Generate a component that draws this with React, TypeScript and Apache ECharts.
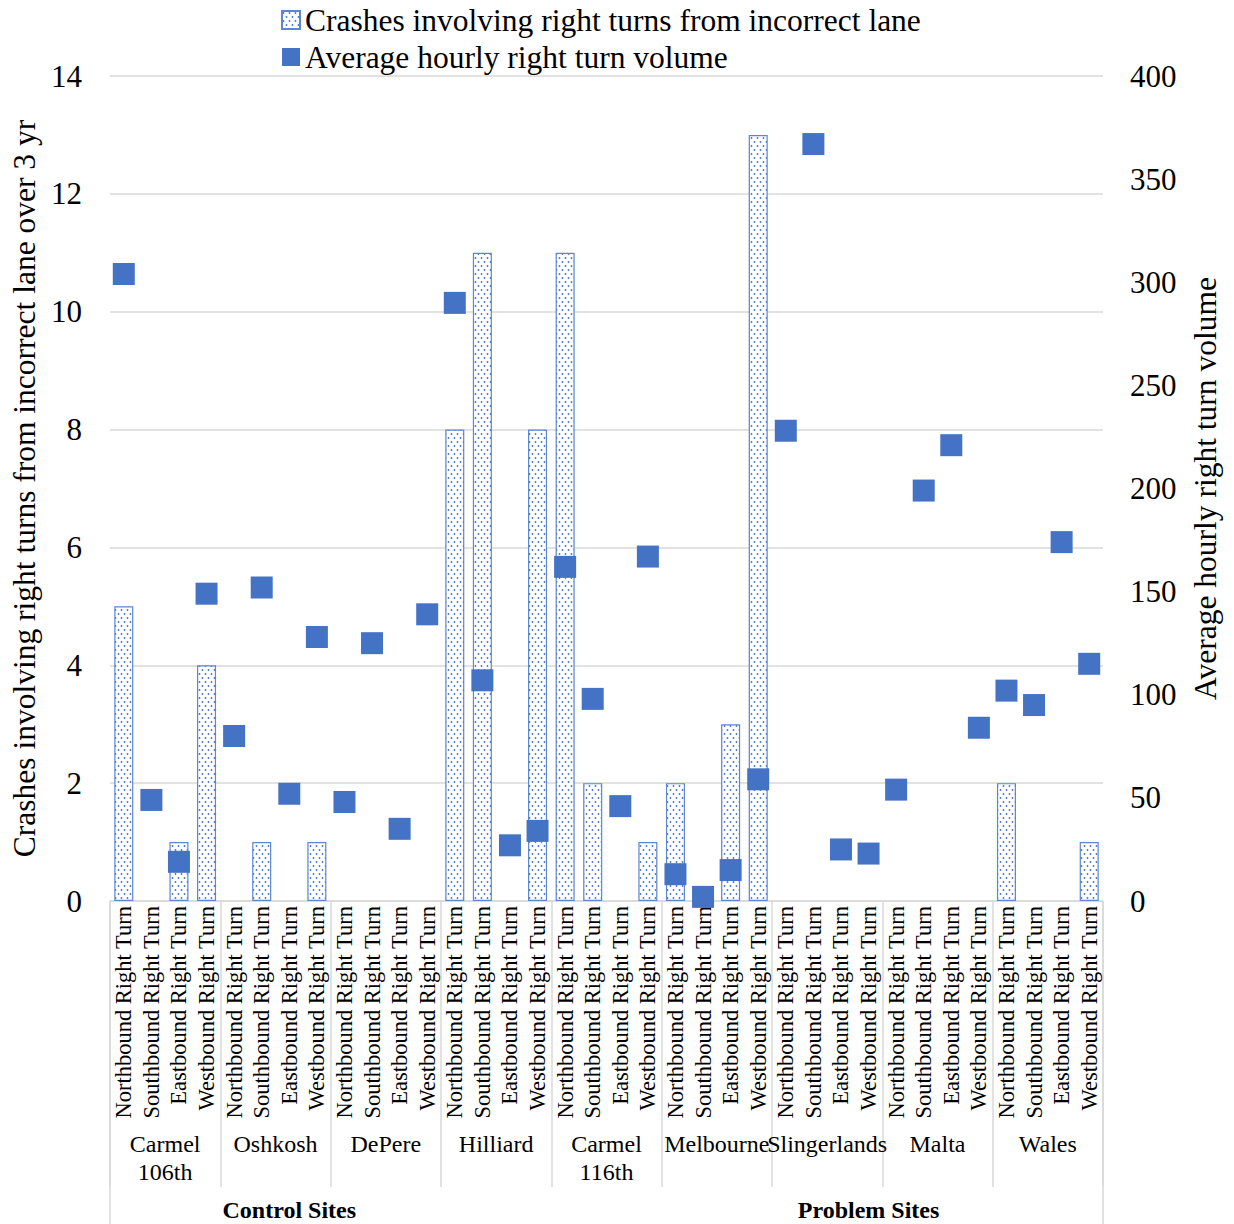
import React, { useEffect, useRef } from "react";
import * as echarts from "echarts";

// Sites, grouped into control and problem intersections
const sites = [
  "Carmel\n106th",
  "Oshkosh",
  "DePere",
  "Hilliard",
  "Carmel\n116th",
  "Melbourne",
  "Slingerlands",
  "Malta",
  "Wales",
];
const directions = [
  "Northbound Right Turn",
  "Southbound Right Turn",
  "Eastbound Right Turn",
  "Westbound Right Turn",
];
const groupNames = ["Control Sites", "Problem Sites"];
// category index under which each group name is written
const groupLabelAt = [6, 27];

// Crashes involving right turns from incorrect lane over 3 yr (left axis)
const crashes = [
  5, 0, 1, 4,
  0, 1, 0, 1,
  0, 0, 0, 0,
  8, 11, 0, 8,
  11, 2, 0, 1,
  2, 0, 3, 13,
  0, 0, 0, 0,
  0, 0, 0, 0,
  2, 0, 0, 1,
];

// Average hourly right turn volume (right axis)
const volume = [
  304, 49, 19, 149,
  80, 152, 52, 128,
  48, 125, 35, 139,
  290, 107, 27, 34,
  162, 98, 46, 167,
  13, 2, 15, 59,
  228, 367, 25, 23,
  54, 199, 221, 84,
  102, 95, 174, 115,
];

const leftAxis = { min: 0, max: 14, interval: 2 };
const rightAxis = { min: 0, max: 400, interval: 50 };

const FONT = '"Liberation Serif", "Times New Roman", serif';
const BLUE = "#4472C4";
const GRID_GREY = "#d9d9d9";

function dotPattern(): HTMLCanvasElement {
  const c = document.createElement("canvas");
  c.width = 6;
  c.height = 8;
  const ctx = c.getContext("2d")!;
  ctx.fillStyle = "#ffffff";
  ctx.fillRect(0, 0, 6, 8);
  ctx.fillStyle = BLUE;
  ctx.beginPath();
  ctx.arc(1.5, 2, 0.9, 0, Math.PI * 2);
  ctx.fill();
  ctx.beginPath();
  ctx.arc(4.5, 6, 0.9, 0, Math.PI * 2);
  ctx.fill();
  return c;
}

export default function App() {
  const ref = useRef<HTMLDivElement>(null);

  useEffect(() => {
    if (!ref.current) return;
    const chart = echarts.init(ref.current, undefined, { renderer: "svg" });

    const categories = sites.flatMap(() => directions);
    const groupCats = categories.map(() => "");
    groupLabelAt.forEach((idx, i) => (groupCats[idx] = groupNames[i]));

    const pattern = { image: dotPattern(), repeat: "repeat" as const };

    chart.setOption({
      animation: false,
      backgroundColor: "#ffffff",
      textStyle: { fontFamily: FONT, color: "#000" },
      legend: {
        orient: "vertical",
        left: 281,
        top: 4,
        padding: 0,
        itemGap: 5,
        itemWidth: 18,
        itemHeight: 18,
        textStyle: { fontFamily: FONT, fontSize: 31.5, color: "#000" },
        data: [
          {
            name: "Crashes involving right turns from incorrect lane",
            icon: "rect",
          },
          { name: "Average hourly right turn volume", icon: "rect" },
        ],
      },
      grid: { left: 109, right: 131, top: 76, bottom: 323 },
      xAxis: [
        {
          type: "category",
          data: categories,
          position: "bottom",
          axisLine: { show: true, lineStyle: { color: GRID_GREY, width: 1.5 } },
          axisTick: { show: false },
          axisLabel: {
            interval: 0,
            rotate: 90,
            margin: 5,
            fontFamily: FONT,
            fontSize: 22.5,
            color: "#000",
          },
        },
        {
          type: "category",
          data: sites,
          position: "bottom",
          axisLine: { show: false },
          axisTick: {
            show: true,
            length: 286,
            lineStyle: { color: GRID_GREY, width: 1.5 },
          },
          axisLabel: {
            interval: 0,
            margin: 229,
            fontFamily: FONT,
            fontSize: 24,
            lineHeight: 28,
            color: "#000",
          },
        },
        {
          type: "category",
          data: [""],
          position: "bottom",
          axisLine: { show: false },
          axisTick: {
            show: true,
            length: 330,
            lineStyle: { color: GRID_GREY, width: 1.5 },
          },
          axisLabel: { show: false },
        },
        {
          type: "category",
          data: groupCats,
          position: "bottom",
          axisLine: { show: false },
          axisTick: { show: false },
          axisLabel: {
            interval: 0,
            margin: 296,
            fontFamily: FONT,
            fontSize: 24,
            fontWeight: "bold",
            lineHeight: 26,
            color: "#000",
          },
        },
      ],
      yAxis: [
        {
          type: "value",
          ...leftAxis,
          position: "left",
          name: "Crashes involving right turns from incorrect lane over 3 yr",
          nameLocation: "middle",
          nameRotate: 90,
          nameGap: 70,
          nameTextStyle: { fontFamily: FONT, fontSize: 31.5, color: "#000" },
          axisLine: { show: false },
          axisTick: { show: false },
          axisLabel: { margin: 28, fontFamily: FONT, fontSize: 31, color: "#000" },
          splitLine: { show: true, lineStyle: { color: GRID_GREY, width: 1.5 } },
        },
        {
          type: "value",
          ...rightAxis,
          position: "right",
          name: "Average hourly right turn volume",
          nameLocation: "middle",
          nameRotate: 90,
          nameGap: 86,
          nameTextStyle: { fontFamily: FONT, fontSize: 31.5, color: "#000" },
          axisLine: { show: false },
          axisTick: { show: false },
          axisLabel: { margin: 27, fontFamily: FONT, fontSize: 31, color: "#000" },
          splitLine: { show: false },
        },
      ],
      series: [
        {
          name: "Crashes involving right turns from incorrect lane",
          type: "bar",
          xAxisIndex: 0,
          yAxisIndex: 0,
          barWidth: "69%",
          itemStyle: { color: pattern, borderColor: "#5B86D0", borderWidth: 1.2 },
          data: crashes.map((v) =>
            v === 0 ? { value: v, itemStyle: { borderWidth: 0 } } : v
          ),
        },
        {
          name: "Average hourly right turn volume",
          type: "scatter",
          xAxisIndex: 0,
          yAxisIndex: 1,
          symbol: "rect",
          symbolSize: 22,
          itemStyle: { color: BLUE, opacity: 1 },
          data: volume,
        },
      ],
    });

    return () => chart.dispose();
  }, []);

  return (
    <div
      ref={ref}
      style={{ position: "fixed", left: 0, top: 0, width: 1234, height: 1224 }}
    />
  );
}
